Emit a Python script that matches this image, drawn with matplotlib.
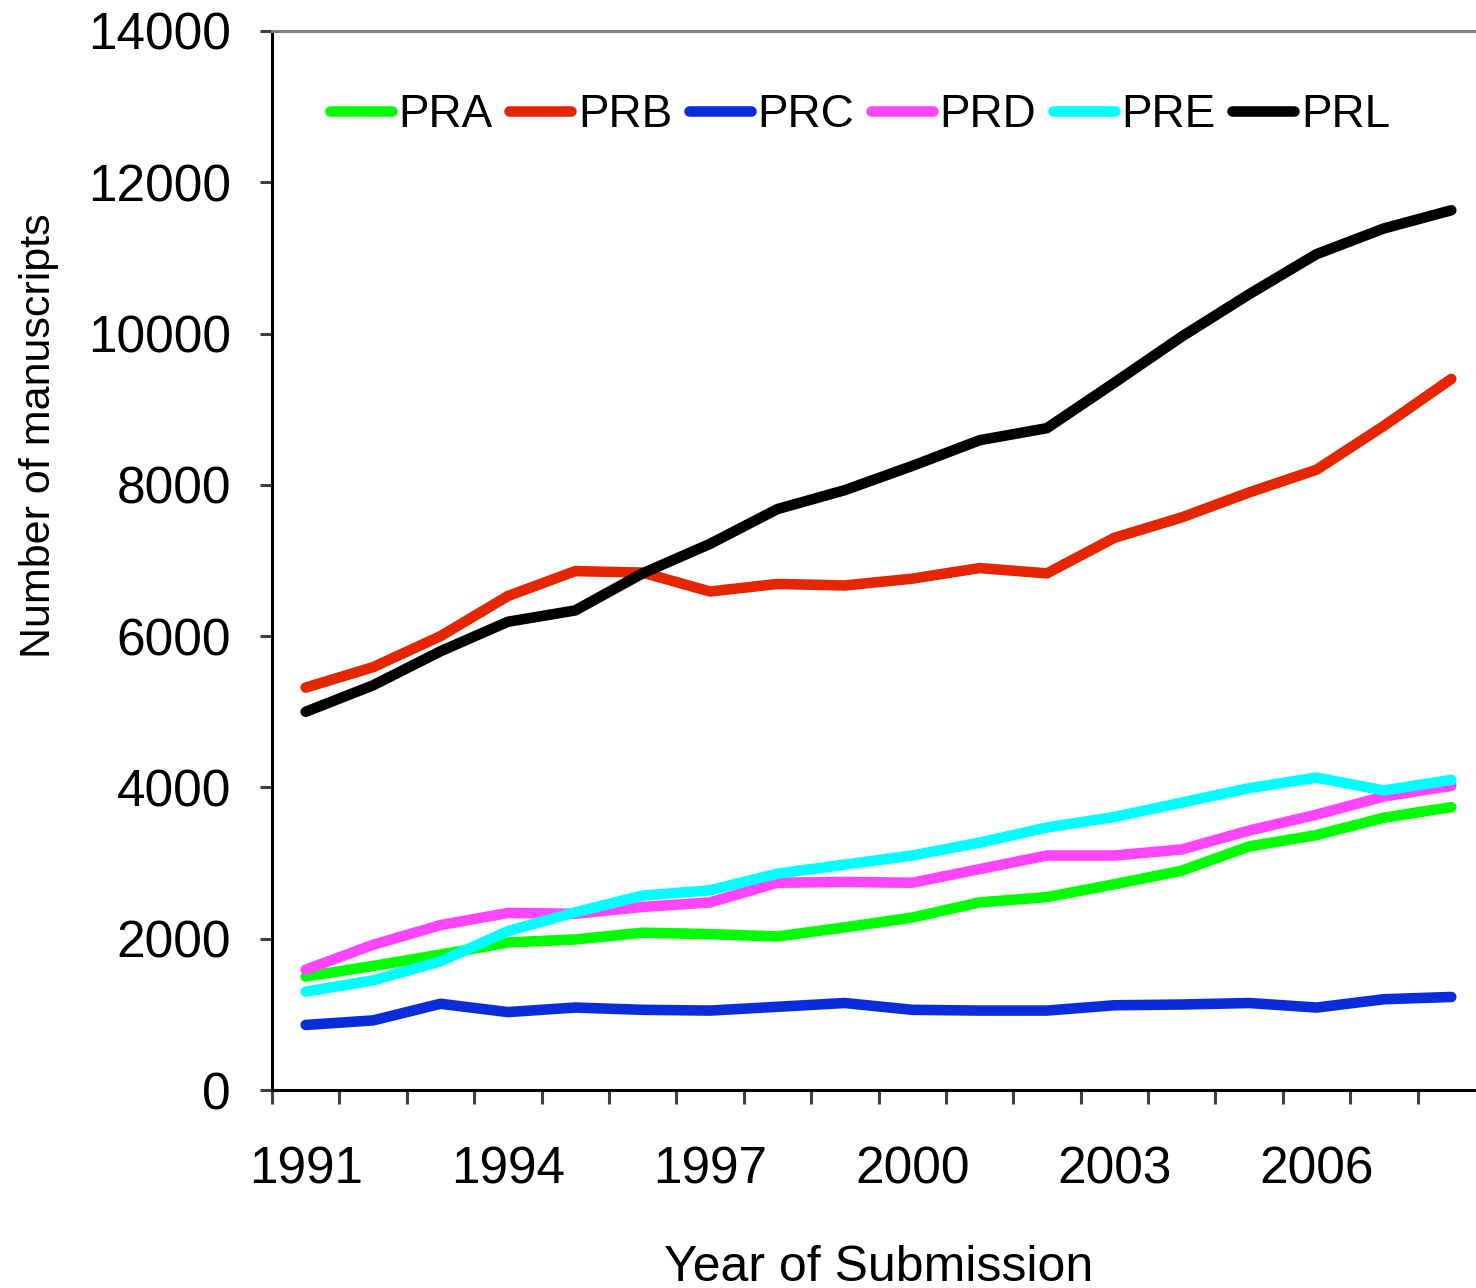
import matplotlib
matplotlib.use("Agg")
import matplotlib.pyplot as plt
import numpy as np

# data
YEARS = list(range(1991, 2009))
SERIES = ["PRA", "PRB", "PRC", "PRD", "PRE", "PRL"]
PRA = [1500, 1640, 1790, 1950, 1990, 2080, 2060, 2030, 2150, 2280, 2480, 2550, 2720, 2900, 3220, 3370, 3600, 3740]
PRB = [5320, 5590, 6000, 6530, 6860, 6840, 6590, 6690, 6670, 6760, 6900, 6830, 7300, 7570, 7900, 8200, 8780, 9400]
PRC = [860, 920, 1140, 1030, 1090, 1060, 1050, 1100, 1150, 1060, 1050, 1050, 1120, 1130, 1150, 1090, 1200, 1230]
PRD = [1590, 1920, 2180, 2340, 2330, 2420, 2480, 2740, 2750, 2740, 2920, 3100, 3100, 3180, 3430, 3640, 3880, 4020]
PRE = [1300, 1450, 1700, 2100, 2350, 2570, 2640, 2860, 2980, 3100, 3270, 3470, 3610, 3800, 3990, 4130, 3960, 4100]
PRL = [5000, 5350, 5800, 6190, 6340, 6830, 7220, 7680, 7930, 8250, 8590, 8750, 9350, 9960, 10520, 11050, 11390, 11630]
COLORS = ["#00FF00", "#E62600", "#0A2CDB", "#FF45FF", "#00FFFF", "#000000"]

plt.rcParams["font.family"] = ["Liberation Sans", "DejaVu Sans"]

W, H = 1476, 1288
fig = plt.figure(figsize=(W / 100, H / 100), dpi=100)
ax = fig.add_axes([272 / W, 198 / H, 1213 / W, 1059 / H])

x = np.arange(len(YEARS))
for name, vals, col in zip(SERIES, [PRA, PRB, PRC, PRD, PRE, PRL], COLORS):
    ax.plot(x, vals, color=col, lw=7.6, label=name,
            solid_joinstyle="round", solid_capstyle="round")

ax.set_xlim(-0.5, len(YEARS) - 0.5)
ax.set_ylim(0, 14000)

ax.set_yticks(np.arange(0, 14001, 2000))
ax.tick_params(axis="y", direction="out", length=8.6, width=2.2,
               color="#404040", pad=21, labelsize=37)

ax.set_xticks(np.arange(-0.5, len(YEARS), 1))
ax.set_xticklabels([])
ax.set_xticks(x[::3], minor=True)
ax.set_xticklabels([str(y) for y in YEARS[::3]], minor=True)
ax.tick_params(axis="x", which="major", direction="out", length=10, width=2.2, color="#404040")
ax.tick_params(axis="x", which="minor", length=0, pad=40, labelsize=37)

for side in ["left", "bottom"]:
    ax.spines[side].set_linewidth(2.2)
    ax.spines[side].set_color("black")
ax.spines["top"].set_color("#808080")
ax.spines["top"].set_linewidth(2.2)
ax.spines["right"].set_visible(False)

ax.set_xlabel("Year of Submission", fontsize=36, labelpad=36)
ax.set_ylabel("Number of manuscripts", fontsize=31)
ax.yaxis.set_label_coords(-0.176, 0.618)

fig.legend(loc="center", bbox_to_anchor=(860 / W, 1 - 115 / H), ncol=6,
           frameon=False, fontsize=33, handlelength=1.35, handletextpad=0.15,
           columnspacing=0.36, borderpad=0, borderaxespad=0)

fig.savefig("out.png", dpi=100)
